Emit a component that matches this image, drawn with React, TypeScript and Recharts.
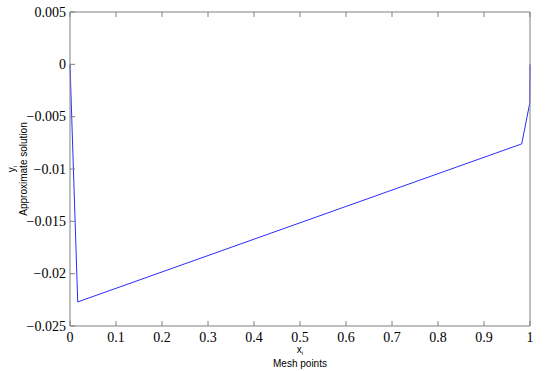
import React from 'react';
import { LineChart, Line, XAxis, YAxis } from 'recharts';

// mesh points and approximate solution
const meshX = [0, 0.0168, 0.982, 0.9995, 1];
const approxY = [0, -0.0227, -0.0076, -0.0037, 0];

const xTicks = [0, 0.1, 0.2, 0.3, 0.4, 0.5, 0.6, 0.7, 0.8, 0.9, 1];
const yTicks = [-0.025, -0.02, -0.015, -0.01, -0.005, 0, 0.005];

const data = meshX.map((x, i) => ({ x, y: approxY[i] }));

const axisColor = '#808080';
const serif = '"Liberation Serif", "Times New Roman", serif';
const sans = '"Liberation Sans", Arial, sans-serif';

const fmtX = (v: number) => String(Math.round(v * 10) / 10);
const fmtY = (v: number) => (v === 0 ? '0' : String(v).replace('-', '\u2212'));

const XTick = (props: any) => {
  const { x, y, payload } = props;
  return (
    <text x={x} y={y + 21} textAnchor="middle" style={{ fontFamily: serif, fontSize: 14 }} fill="#000">
      {fmtX(payload.value)}
    </text>
  );
};

const YTick = (props: any) => {
  const { x, y, payload } = props;
  return (
    <text x={x - 9} y={y + 4.5} textAnchor="end" style={{ fontFamily: serif, fontSize: 14 }} fill="#000">
      {fmtY(payload.value)}
    </text>
  );
};

const XLabel = (props: any) => {
  const vb = props.viewBox || {};
  const cx = vb.x + vb.width / 2;
  return (
    <g style={{ fontFamily: sans }} fill="#000">
      <text x={cx} y={353} fontSize={10} textAnchor="middle">
        x<tspan fontSize={6} dy={2}>i</tspan>
      </text>
      <text x={cx} y={367} fontSize={10} textAnchor="middle">Mesh points</text>
    </g>
  );
};

const YLabel = (props: any) => {
  const vb = props.viewBox || {};
  const cy = vb.y + vb.height / 2;
  return (
    <g style={{ fontFamily: sans }} fill="#000">
      <text x={15} y={cy} fontSize={10} textAnchor="middle" transform={`rotate(-90 15 ${cy})`}>
        y<tspan fontSize={6} dy={2}>i</tspan>
      </text>
      <text x={27} y={cy} fontSize={10} textAnchor="middle" transform={`rotate(-90 27 ${cy})`}>
        Approximate solution
      </text>
    </g>
  );
};

export default function App() {
  return (
    <div style={{ position: 'absolute', left: 0, top: 0, width: 550, height: 371, background: '#fff' }}>
      <LineChart width={550} height={371} data={data} margin={{ top: 11, right: 19, bottom: 0, left: 0 }}>
        <XAxis
          xAxisId="b"
          dataKey="x"
          type="number"
          domain={[0, 1]}
          ticks={xTicks}
          height={45}
          tickSize={-5}
          tickMargin={0}
          stroke={axisColor}
          tick={<XTick />}
          label={<XLabel />}
        />
        <XAxis
          xAxisId="t"
          dataKey="x"
          type="number"
          orientation="top"
          domain={[0, 1]}
          ticks={xTicks}
          tickFormatter={() => ''}
          height={1}
          tickSize={-5}
          stroke={axisColor}
        />
        <YAxis
          yAxisId="l"
          type="number"
          domain={[-0.025, 0.005]}
          ticks={yTicks}
          width={70}
          tickSize={-5}
          tickMargin={0}
          stroke={axisColor}
          tick={<YTick />}
          label={<YLabel />}
        />
        <YAxis
          yAxisId="r"
          type="number"
          orientation="right"
          domain={[-0.025, 0.005]}
          ticks={yTicks}
          tickFormatter={() => ''}
          width={1}
          tickSize={-5}
          stroke={axisColor}
        />
        <Line
          xAxisId="b"
          yAxisId="l"
          dataKey="y"
          stroke="#2b2bff"
          strokeWidth={1}
          dot={false}
          isAnimationActive={false}
        />
      </LineChart>
    </div>
  );
}
